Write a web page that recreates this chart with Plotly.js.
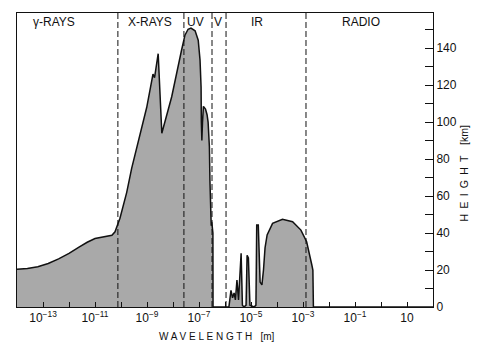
<!DOCTYPE html>
<html>
<head>
<meta charset="utf-8">
<script src="https://cdn.plot.ly/plotly-3.0.1.min.js"></script>
<style>html,body{margin:0;padding:0;background:#fff;}#chart{width:480px;height:350px;}</style>
</head>
<body>
<div id="chart"></div>
<script>
// log10 of wavelength [m] along the absorption-height curve
const logWavelength = [
  -14.0, -13.6, -13.2, -12.8, -12.4, -12.0, -11.6, -11.3, -11.0, -10.75,
  -10.5, -10.35, -10.23, -10.04, -9.78, -9.59, -9.01, -8.82, -8.77, -8.71,
  -8.57, -8.43, -8.05, -7.67, -7.54, -7.42, -7.31, -7.15, -7.03, -6.96,
  -6.92, -6.91, -6.89, -6.865, -6.83, -6.75, -6.69, -6.65, -6.60, -6.58,
  -6.55, -6.53, -6.51, -6.49, -6.465, -6.46, -5.85, -5.77, -5.71, -5.65,
  -5.60, -5.54, -5.48, -5.38, -5.33, -5.27, -5.19, -5.15, -5.10, -5.04,
  -4.88, -4.81, -4.78, -4.72, -4.65, -4.58, -4.52, -4.46, -4.38, -4.17,
  -3.79, -3.40, -3.08, -2.86, -2.73, -2.66, -2.62, -2.60, 2.0
];
// height [km] at which the radiation is absorbed
const heightKm = [
  20.4, 20.8, 21.8, 23.5, 26, 29, 32.5, 35, 37, 37.8,
  38.2, 38.8, 40.7, 48, 62, 75, 108, 121, 126, 124,
  137, 94, 113.7, 139, 147, 150.2, 150.8, 149.4, 144.3, 133.5,
  119, 100, 90, 100, 108.5, 107, 104, 100, 86.6, 68.6,
  47, 44, 46, 43, 40, 0, 0, 9, 5, 7.6,
  3.8, 14.6, 3.8, 29, 1, 0, 1, 28, 26.5, 1,
  0, 1, 44.3, 44.3, 13.5, 12, 20, 32, 39, 45.2,
  47.4, 46.1, 41.6, 35.3, 28, 22.7, 20, 0, 0
];
// band boundaries (log10 wavelength)
const boundaryLog = [-10.12, -7.58, -6.5, -5.96, -2.885];
const bandNames = ["\u03b3-RAYS", "X-RAYS", "UV", "V", "IR", "RADIO"];
const bandLabelPos = [0.089, 0.32, 0.43, 0.483, 0.577, 0.827];
// axis ticks
const xTickExp = [-13, -12, -11, -10, -9, -8, -7, -6, -5, -4, -3, -2, -1, 0, 1];
const xTickText = xTickExp.map(e => (e % 2 === 0) ? "" : (e === 1 ? "10" : "10<sup>\u2212" + (-e) + "</sup>"));
const yTickVals = [0, 20, 40, 60, 80, 100, 120, 140];

const font = "Liberation Sans, Arial, sans-serif";
const traces = [{
  x: logWavelength.map(e => Math.pow(10, e)),
  y: heightKm,
  type: "scatter", mode: "lines",
  fill: "tozeroy", fillcolor: "#a9a9a9",
  line: {color: "#111", width: 1.5, shape: "linear"},
  hoverinfo: "skip"
}];
boundaryLog.forEach(b => {
  traces.push({
    x: [Math.pow(10, b), Math.pow(10, b)], y: [0, 159],
    type: "scatter", mode: "lines",
    line: {color: "#111", width: 1, dash: "6px,3px"},
    hoverinfo: "skip"
  });
});

const annotations = bandNames.map((n, i) => ({
  text: n, xref: "paper", yref: "paper", x: bandLabelPos[i], y: 0.969,
  xanchor: "center", yanchor: "middle", showarrow: false,
  font: {family: font, size: 12, color: "#111"}
}));
annotations.push({
  text: "W A V E L E N G T H \u00a0\u00a0[m]", xref: "paper", yref: "paper",
  x: 0.48, y: -0.1, xanchor: "center", yanchor: "middle", showarrow: false,
  font: {family: font, size: 10, color: "#111"}
});
annotations.push({
  text: "H\u2002E\u2002I\u2002G\u2002H\u2002T\u2002\u2002[km]", xref: "paper", yref: "paper",
  x: 1.075, y: 0.455, xanchor: "center", yanchor: "middle", showarrow: false,
  textangle: -90, font: {family: font, size: 10.5, color: "#111"}
});

const layout = {
  width: 480, height: 350,
  margin: {l: 17, r: 47, t: 13, b: 43},
  paper_bgcolor: "#fff", plot_bgcolor: "#fff",
  showlegend: false,
  font: {family: font, size: 12, color: "#111"},
  xaxis: {
    type: "log", range: [-14, 2],
    tickvals: xTickExp.map(e => Math.pow(10, e)), ticktext: xTickText,
    ticks: "inside", ticklen: 5, tickcolor: "#111",
    showline: true, linecolor: "#111", linewidth: 1, mirror: true,
    showgrid: false, zeroline: false,
    tickfont: {family: font, size: 12, color: "#111"}
  },
  yaxis: {
    side: "right", range: [0, 159],
    tickvals: yTickVals, ticks: "inside", ticklen: 8, tickcolor: "#111",
    minor: {dtick: 10, ticks: "inside", ticklen: 8, tickcolor: "#111"},
    showline: true, linecolor: "#111", linewidth: 1, mirror: true,
    showgrid: false, zeroline: false,
    tickfont: {family: font, size: 12, color: "#111"}
  },
  annotations: annotations
};
Plotly.newPlot("chart", traces, layout, {staticPlot: true, displayModeBar: false});
</script>
</body>
</html>
